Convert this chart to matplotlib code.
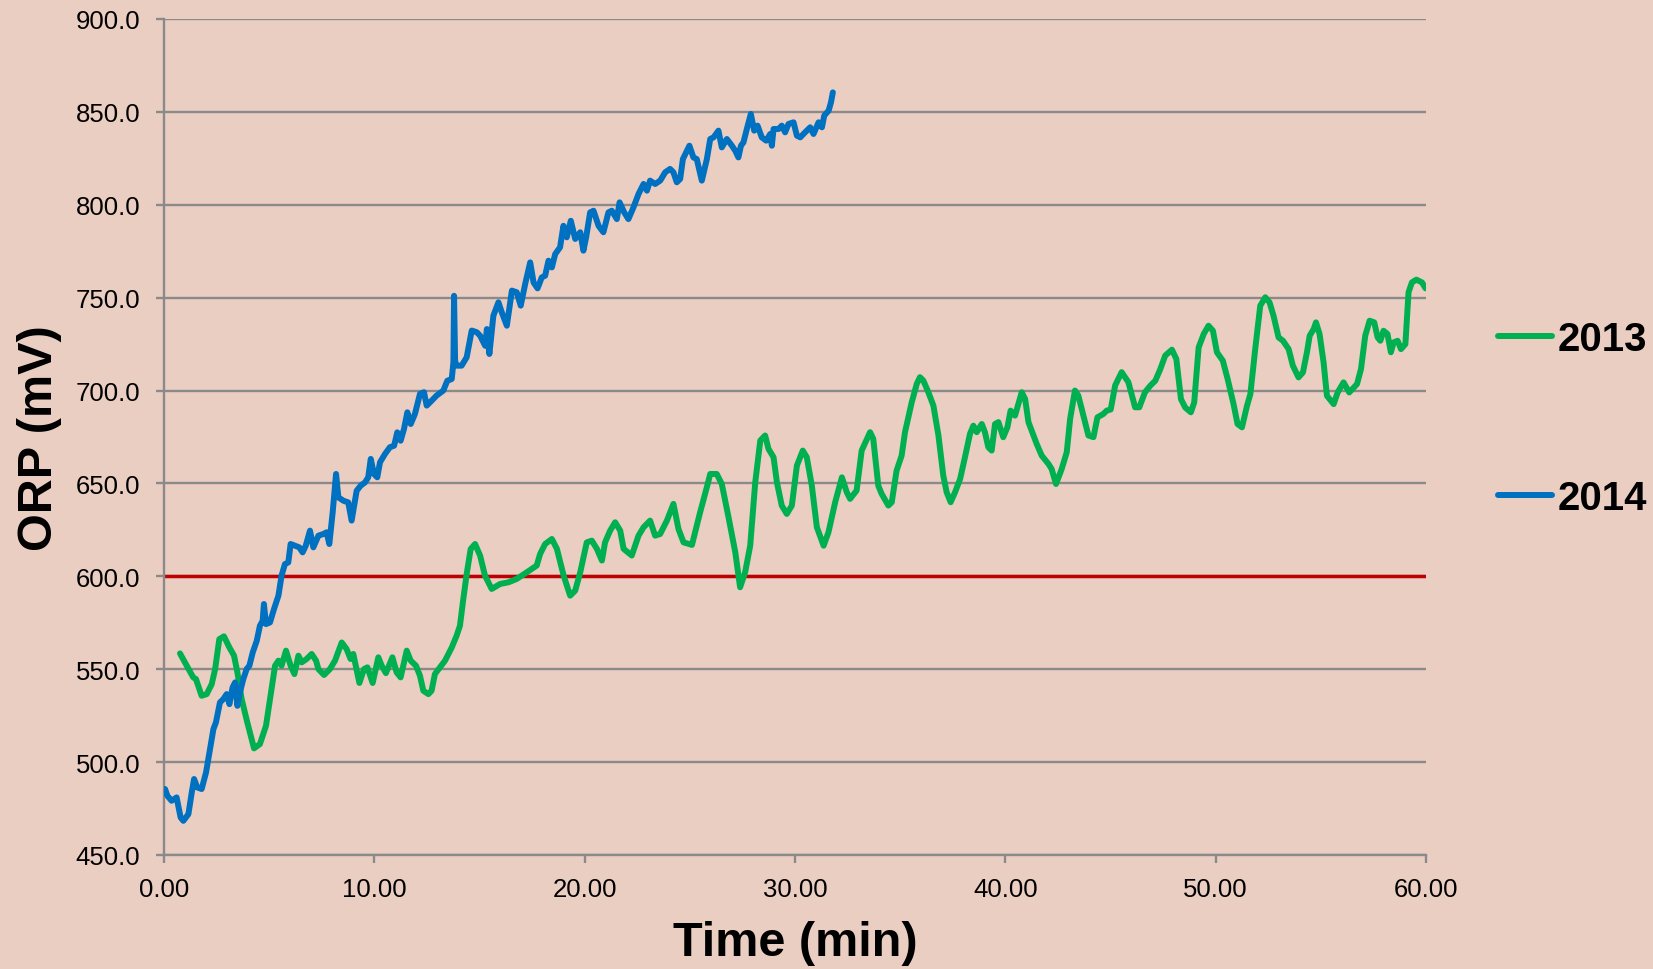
import matplotlib
matplotlib.use("Agg")
import matplotlib.pyplot as plt
from matplotlib.ticker import FormatStrFormatter, MultipleLocator

# ---------------- data ----------------
time_2013 = [
    0.76, 1.08, 1.39, 1.52, 1.79, 2.03, 2.27, 2.43, 2.63, 2.85,
    3.11, 3.33, 3.49, 3.69, 3.96, 4.28, 4.56, 4.85, 5.04, 5.28,
    5.44, 5.59, 5.80, 6.02, 6.20, 6.39, 6.55, 6.78, 7.02, 7.23,
    7.34, 7.61, 7.89, 8.13, 8.45, 8.68, 8.87, 9.00, 9.29, 9.51,
    9.67, 9.92, 10.19, 10.35, 10.55, 10.86, 11.06, 11.25, 11.54, 11.73,
    11.98, 12.17, 12.33, 12.57, 12.72, 12.88, 13.12, 13.36, 13.68, 13.91,
    14.07, 14.23, 14.39,
    14.58, 14.79, 15.03, 15.26,
    15.58, 15.98, 16.38, 16.77, 17.25, 17.72, 17.88, 18.12, 18.44, 18.68,
    19.00, 19.31, 19.55, 19.79, 20.10, 20.34, 20.58, 20.82, 20.97, 21.21,
    21.45, 21.69, 21.85, 22.24, 22.56, 22.80, 23.11, 23.35, 23.59, 23.91,
    24.22, 24.46, 24.70, 25.10, 25.49, 25.81, 25.97, 26.28, 26.52, 26.84,
    27.16, 27.39, 27.63, 27.87, 28.11, 28.35, 28.58, 28.74, 28.98, 29.14,
    29.37, 29.61, 29.85, 30.09, 30.37, 30.56, 30.80, 31.04, 31.36, 31.59,
    31.91, 32.23, 32.46, 32.62,
    32.93, 33.17, 33.57, 33.72, 33.96, 34.12, 34.44, 34.60, 34.83, 35.07,
    35.23, 35.55, 35.79, 35.94, 36.10, 36.34, 36.58, 36.82, 37.05, 37.21,
    37.40, 37.61, 37.85, 38.08, 38.32, 38.48, 38.64, 38.88, 39.03, 39.19,
    39.35, 39.51, 39.67, 39.90, 40.10, 40.25, 40.46, 40.78, 40.94, 41.10,
    41.49, 41.73, 42.05, 42.20, 42.41, 42.68, 42.92, 43.08, 43.31, 43.47,
    43.71, 43.95, 44.19, 44.38, 44.66, 44.82, 45.01, 45.22, 45.53, 45.85,
    46.17, 46.37, 46.64,
    46.89, 47.13, 47.37, 47.60, 47.92, 48.13, 48.35, 48.55, 48.82, 48.98,
    49.19, 49.43, 49.66, 49.87, 50.06, 50.34, 50.57, 50.85, 51.04, 51.25,
    51.49, 51.65, 51.88, 52.12, 52.36, 52.56, 52.75, 52.99, 53.20, 53.47,
    53.67, 53.94, 54.15, 54.34, 54.47, 54.66, 54.77, 54.94, 55.13, 55.29,
    55.61, 55.80, 56.08, 56.35, 56.72, 56.91, 57.11, 57.32, 57.54, 57.70,
    57.83, 57.98, 58.17, 58.33, 58.46, 58.65, 58.81, 59.02, 59.17, 59.33,
    59.54, 59.81, 59.98,
]
orp_2013 = [
    558.5, 551.9, 545.6, 544.7, 535.7, 536.6, 542.0, 550.0, 566.2, 567.7,
    561.7, 557.3, 548.3, 534.0, 521.4, 507.4, 509.7, 519.6, 534.0, 551.9,
    554.6, 551.9, 560.0, 551.9, 547.4, 557.3, 553.7, 555.5, 558.2, 554.6,
    550.1, 546.9, 550.1, 554.6, 564.4, 560.9, 555.5, 558.2, 542.6, 550.1,
    551.0, 542.6, 556.4, 551.9, 547.9, 556.4, 548.3, 545.6, 560.0, 554.6,
    551.9, 546.5, 538.4, 536.6, 538.4, 547.4, 551.0, 554.6, 561.7, 568.0,
    573.4, 587.8, 601.2,
    614.7, 617.4, 611.1, 600.4,
    593.2, 595.9, 596.8, 598.6, 602.2, 605.8, 612.0, 617.4, 620.1, 614.8,
    600.4, 589.6, 592.3, 602.2, 618.3, 619.2, 614.8, 608.5, 618.3, 624.6,
    629.1, 624.6, 614.8, 611.2, 621.9, 626.4, 630.0, 621.9, 622.8, 630.0,
    639.0, 625.5, 618.3, 616.9, 634.5, 648.0, 655.1, 655.1, 649.7, 631.8,
    613.0, 594.1, 602.2, 616.5, 650.6, 673.1, 675.8, 668.6, 664.1, 650.6,
    638.1, 633.6, 638.1, 659.6, 667.7, 664.1, 648.8, 626.4, 616.5, 623.7,
    639.9, 653.3, 645.3, 641.7,
    646.2, 667.7, 677.6, 674.0, 648.8, 644.4, 638.1, 639.9, 656.9, 665.0,
    677.6, 693.7, 703.6, 707.2, 705.4, 699.1, 691.9, 675.8, 654.2, 645.3,
    639.9, 645.3, 652.4, 664.1, 676.7, 681.1, 677.6, 682.0, 677.6, 669.5,
    667.7, 682.0, 683.0, 674.9, 680.3, 689.2, 686.5, 699.1, 695.5, 683.0,
    671.3, 665.0, 660.5, 657.8, 649.7, 657.8, 666.8, 684.7, 700.0, 697.3,
    686.5, 675.8, 674.9, 685.6, 687.4, 689.2, 689.8, 702.7, 709.9, 704.5,
    691.0, 691.0, 699.1,
    702.6, 705.3, 711.6, 718.8, 722.0, 717.0, 695.4, 690.9, 688.3, 693.6,
    723.2, 730.4, 734.9, 732.2, 720.6, 716.1, 706.2, 692.7, 682.0, 680.2,
    691.8, 698.1, 722.3, 745.7, 750.2, 747.5, 740.3, 728.6, 726.8, 722.3,
    713.4, 707.1, 709.8, 720.6, 729.5, 733.1, 736.7, 730.4, 715.2, 697.2,
    692.7, 699.0, 704.4, 699.0, 703.5, 711.6, 729.5, 737.6, 736.7, 728.6,
    726.8, 732.2, 730.4, 720.6, 725.9, 726.8, 722.3, 725.0, 752.9, 758.2,
    759.7, 758.2, 755.0,
]

time_2014 = [
    0.05, 0.16, 0.36, 0.60, 0.79, 0.92, 1.16, 1.32, 1.43, 1.58,
    1.79, 2.00, 2.19, 2.35, 2.47, 2.66, 2.82, 2.98, 3.11, 3.26,
    3.38, 3.49, 3.61, 3.77, 3.93, 4.06, 4.22, 4.41, 4.56, 4.69,
    4.75, 4.85, 5.04, 5.23,
    5.44, 5.59, 5.75, 5.91, 6.02, 6.23, 6.43, 6.59, 6.74, 6.94,
    7.10, 7.34, 7.58, 7.73, 7.86, 8.02, 8.18, 8.29, 8.53, 8.76,
    8.92, 9.16, 9.35, 9.56, 9.71, 9.83, 9.98, 10.14, 10.27, 10.51,
    10.74, 10.94, 11.09, 11.25, 11.41, 11.57, 11.73, 11.93, 12.17, 12.36,
    12.49, 12.65, 12.96, 13.28, 13.47, 13.68, 13.76, 13.79, 13.84, 13.91,
    14.15, 14.39, 14.63, 14.87,
    15.03, 15.27, 15.35, 15.47, 15.66, 15.90, 16.06, 16.30, 16.54, 16.77,
    16.96, 17.17, 17.41, 17.57, 17.76, 17.96, 18.12, 18.28, 18.44, 18.60,
    18.83, 18.99, 19.15, 19.34, 19.55, 19.79, 19.94, 20.07, 20.26, 20.42,
    20.66, 20.89, 21.13, 21.29, 21.53, 21.66, 21.88, 22.08, 22.32, 22.56,
    22.80, 22.96, 23.11, 23.35, 23.59, 23.83, 24.06, 24.22, 24.38, 24.54,
    24.67, 24.98, 25.17, 25.33, 25.57, 25.81, 25.97, 26.13, 26.36, 26.52,
    26.76, 27.00, 27.16, 27.31, 27.43, 27.55, 27.71, 27.90, 28.06, 28.22,
    28.42, 28.63, 28.82, 28.90, 28.98, 29.22, 29.37, 29.53, 29.69, 29.93,
    30.09, 30.25, 30.48, 30.72, 30.88, 31.12, 31.28, 31.39, 31.60, 31.71,
    31.80,
]
orp_2014 = [
    485.5, 481.9, 479.2, 481.0, 470.2, 468.4, 472.0, 483.7, 490.9, 486.4,
    485.5, 494.5, 507.0, 517.8, 521.4, 532.1, 533.9, 536.6, 531.2, 540.2,
    542.9, 530.3, 537.5, 544.7, 550.1, 551.9, 559.1, 565.3, 573.4, 576.1,
    585.1, 574.3, 575.2, 582.4,
    589.6, 600.4, 606.6, 607.5, 617.4, 616.5, 615.6, 612.9, 616.5, 624.6,
    615.6, 621.9, 622.8, 623.7, 617.4, 634.5, 655.1, 642.5, 640.7, 639.8,
    630.0, 646.1, 648.8, 650.6, 653.3, 663.2, 655.1, 653.3, 661.4, 665.9,
    669.5, 670.3, 677.5, 673.0, 679.3, 688.3, 682.0, 687.4, 698.2, 699.1,
    691.9, 693.7, 697.3, 700.0, 705.3, 706.2, 715.2, 751.0, 716.0, 713.4,
    713.4, 717.9, 732.3, 731.4,
    729.5, 724.1, 733.1, 719.7, 740.3, 747.5, 742.1, 734.9, 753.8, 752.9,
    745.7, 757.3, 769.0, 758.2, 755.0, 760.9, 761.8, 769.9, 766.3, 773.5,
    777.1, 788.7, 782.5, 791.4, 781.6, 785.2, 775.3, 782.5, 795.9, 796.8,
    788.7, 785.2, 795.9, 796.8, 792.3, 801.3, 795.9, 792.3, 798.6, 805.8,
    811.2, 807.6, 813.0, 811.2, 813.0, 817.5, 819.3, 817.5, 812.1, 813.9,
    824.6, 831.8, 825.5, 824.6, 813.0, 824.6, 835.4, 836.3, 839.9, 830.9,
    835.4, 831.8, 829.1, 825.5, 831.8, 833.6, 840.8, 848.9, 839.9, 842.6,
    836.3, 834.5, 838.1, 831.8, 840.8, 840.8, 842.6, 839.0, 843.5, 844.4,
    837.2, 836.3, 839.0, 841.7, 838.1, 844.4, 841.7, 848.0, 850.7, 855.1,
    860.5,
]

threshold = 600.0
series_labels = ["2013", "2014"]
x_label = "Time (min)"
y_label = "ORP (mV)"

# ---------------- style ----------------
BG = "#EBCEC2"
GRID = "#8A8A8A"
GREEN = "#00B050"
BLUE = "#0070C0"
RED = "#C00000"
FONT = "Liberation Sans"

fig = plt.figure(figsize=(16.53, 9.70), dpi=100, facecolor=BG)
ax = fig.add_axes([164 / 1653, 1 - 856 / 970, (1426 - 164) / 1653, (856 - 20) / 970])
ax.set_facecolor(BG)

ax.set_xlim(0, 60)
ax.set_ylim(450, 900)
ax.xaxis.set_major_locator(MultipleLocator(10))
ax.yaxis.set_major_locator(MultipleLocator(50))
ax.xaxis.set_major_formatter(FormatStrFormatter("%.2f"))
ax.yaxis.set_major_formatter(FormatStrFormatter("%.1f"))

ax.grid(axis="y", color=GRID, linewidth=1.7, zorder=0)
ax.set_axisbelow(True)
for s in ["top", "right"]:
    ax.spines[s].set_visible(False)
for s in ["left", "bottom"]:
    ax.spines[s].set_color(GRID)
    ax.spines[s].set_linewidth(1.7)

ax.tick_params(axis="both", colors=GRID, width=1.7, length=6, direction="out",
               labelcolor="black", labelsize=18.5)
ax.tick_params(axis="y", pad=11)
ax.tick_params(axis="x", pad=10)
for lab in ax.get_xticklabels() + ax.get_yticklabels():
    lab.set_fontfamily(FONT)

ax.axhline(threshold, color=RED, linewidth=2.5, zorder=2)

l13, = ax.plot(time_2013, orp_2013, color=GREEN, linewidth=4.3,
               solid_capstyle="round", solid_joinstyle="round", zorder=3,
               label=series_labels[0])
l14, = ax.plot(time_2014, orp_2014, color=BLUE, linewidth=4.3,
               solid_capstyle="round", solid_joinstyle="round", zorder=4,
               label=series_labels[1])

ax.set_xlabel(x_label, fontsize=35, fontweight="bold", fontfamily=FONT)
ax.set_ylabel(y_label, fontsize=35, fontweight="bold", fontfamily=FONT)
ax.xaxis.label.set_va("center")
ax.yaxis.label.set_va("center")
ax.xaxis.set_label_coords(0.5, -0.105)
ax.yaxis.set_label_coords(-0.099, 0.5)

leg = ax.legend(handles=[l13, l14], loc="center left",
                bbox_to_anchor=(1498 / 1653, 1 - 419.5 / 970),
                bbox_transform=fig.transFigure, frameon=False,
                borderpad=0, borderaxespad=0, handlelength=1.35,
                handletextpad=0.12, labelspacing=3.0,
                prop={"family": FONT, "weight": "bold", "size": 29})

fig.savefig("out.png", dpi=100, facecolor=BG)
